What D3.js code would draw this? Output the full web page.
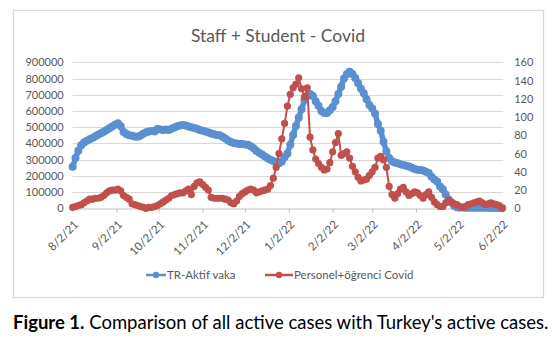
<!DOCTYPE html>
<html>
<head>
<meta charset="utf-8">
<script src="https://cdn.jsdelivr.net/npm/d3@7"></script>
<style>
  html, body { margin: 0; padding: 0; background: #fff; }
  svg { display: block; }
  text { font-family: Lato, "Open Sans", sans-serif; }
</style>
</head>
<body>
<svg id="chart" width="558" height="339"></svg>
<script>
// Readings every second day, starting 8/2/21
const startDate = "8/2/21";
const stepDays = 2;

// TR-Aktif vaka (left axis)
const trActive = [
  256000, 310000, 355000, 388000, 405000, 416000, 426000, 434000, 444000, 453000,
  462000, 472000, 482000, 493000, 504000, 515000, 524000, 506000, 470000, 458000,
  451000, 447000, 442000, 441000, 448000, 460000, 469000, 473000, 477000, 474000,
  489000, 486000, 483000, 485000, 483000, 490000, 498000, 506000, 511000, 514000,
  510000, 505000, 500000, 495000, 490000, 483000, 478000, 473000, 467000, 461000,
  456000, 452000, 450000, 441000, 430000, 418000, 408000, 402000, 399000, 397000,
  396000, 394000, 391000, 382000, 370000, 355000, 343000, 332000, 320000, 309000,
  299000, 291000, 284000, 278000, 288000, 315000, 338000, 392000, 452000, 508000,
  560000, 610000, 668000, 692000, 705000, 693000, 660000, 632000, 600000, 588000,
  587000, 605000, 625000, 660000, 705000, 750000, 800000, 826000, 841000, 828000,
  803000, 772000, 737000, 709000, 672000, 637000, 615000, 585000, 520000, 478000,
  410000, 352000, 310000, 290000, 283000, 278000, 272000, 267000, 262000, 257000,
  250000, 243000, 237000, 236000, 233000, 225000, 217000, 195000, 178000, 165000,
  135000, 118000, 85000, 55000, 35000, 15000, 6000, 5000, 5000, 4000,
  4000, 4000, 3000, 3000, 3000, 3000, 3000, 3000, 2000, 2000,
  2000, 2000, 2000
];

// Personel+öğrenci Covid (right axis)
const staffStudent = [
  1, 2, 3, 4, 6, 8, 10, 10, 11, 11,
  12, 14, 17, 19, 20, 20, 21, 19, 14, 12,
  10, 5, 4, 3, 2, 1, 0, 1, 1, 2,
  3, 5, 7, 9, 11, 14, 15, 16, 17, 17,
  19, 21, 15, 24, 28, 29, 26, 23, 20, 12,
  11, 11, 11, 11, 10, 9, 6, 5, 8, 13,
  16, 18, 20, 21, 20, 17, 18, 19, 20, 21,
  25, 33, 45, 60, 76, 93, 112, 125, 132, 136,
  143, 131, 122, 132, 78, 64, 54, 49, 45, 42,
  43, 50, 62, 72, 82, 58, 60, 62, 55, 46,
  40, 34, 30, 31, 32, 36, 40, 45, 55, 57,
  53, 45, 24, 15, 11, 16, 21, 23, 18, 14,
  16, 18, 17, 14, 11, 15, 18, 12, 7, 4,
  2, 2, 6, 9, 7, 5, 4, 2, 1, 2,
  4, 5, 6, 7, 8, 6, 4, 5, 6, 5,
  4, 3, 0
];

const monthTicks = ["8/2/21", "9/2/21", "10/2/21", "11/2/21", "12/2/21", "1/2/22",
                    "2/2/22", "3/2/22", "4/2/22", "5/2/22", "6/2/22"];
const leftTicks = [0, 100000, 200000, 300000, 400000, 500000, 600000, 700000, 800000, 900000];
const rightTicks = [0, 20, 40, 60, 80, 100, 120, 140, 160];

const seriesNames = ["TR-Aktif vaka", "Personel+öğrenci Covid"];
const chartTitle = "Staff + Student - Covid";

const BLUE = "#5b8fd0";
const RED = "#c0504d";
const LABEL = "#595959";
const GRID = "#d9d9d9";

const parse = d3.timeParse("%m/%d/%y");
const fmt = d3.timeFormat("%-m/%-d/%y");
const t0 = parse(startDate);
const blueData = trActive.map((v, i) => ({ date: d3.timeDay.offset(t0, i * stepDays), value: v }));
const redData = staffStudent.map((v, i) => ({ date: d3.timeDay.offset(t0, i * stepDays), value: v }));
const tickDates = monthTicks.map(parse);

const svg = d3.select("#chart");

// chart frame
svg.append("rect").attr("width", 558).attr("height", 339).attr("fill", "#fff");
svg.append("rect")
  .attr("x", 13.5).attr("y", 10.5).attr("width", 530).attr("height", 287)
  .attr("fill", "#fff").attr("stroke", GRID).attr("stroke-width", 1.3);

svg.append("text")
  .attr("x", 278).attr("y", 42)
  .attr("text-anchor", "middle")
  .attr("fill", LABEL)
  .attr("font-size", 17.5)
  .text(chartTitle);

const plotLeft = 72.7, plotRight = 502.2, plotTop = 62.3, plotBottom = 208.3;

const x = d3.scaleTime().domain([tickDates[0], tickDates[tickDates.length - 1]]).range([plotLeft, plotRight]);
const yL = d3.scaleLinear().domain([0, 900000]).range([plotBottom, plotTop]);
const yR = d3.scaleLinear().domain([0, 160]).range([plotBottom, plotTop]);

// horizontal gridlines
svg.append("g")
  .selectAll("line")
  .data(leftTicks.slice(1))
  .join("line")
  .attr("x1", plotLeft).attr("x2", plotRight + 1)
  .attr("y1", d => Math.round(yL(d)) + 0.5).attr("y2", d => Math.round(yL(d)) + 0.5)
  .attr("stroke", GRID).attr("stroke-width", 1);

// left axis labels
const gL = svg.append("g")
  .attr("transform", `translate(${plotLeft - 9},0)`)
  .call(d3.axisLeft(yL).tickValues(leftTicks).tickFormat(d3.format("d")).tickSize(0).tickPadding(0));
gL.select(".domain").remove();
gL.selectAll("text").attr("fill", LABEL).attr("font-size", 11).attr("font-family", "Lato, sans-serif");

// right axis labels
const gR = svg.append("g")
  .attr("transform", `translate(${plotRight + 12},0)`)
  .call(d3.axisRight(yR).tickValues(rightTicks).tickSize(0).tickPadding(0));
gR.select(".domain").remove();
gR.selectAll("text").attr("fill", LABEL).attr("font-size", 11).attr("font-family", "Lato, sans-serif");

// date axis
const gX = svg.append("g")
  .attr("transform", `translate(0,${Math.round(plotBottom) + 0.5})`)
  .call(d3.axisBottom(x).tickValues(tickDates).tickFormat(fmt).tickSize(4).tickSizeOuter(0));
gX.select(".domain").attr("stroke", "#bfbfbf");
gX.selectAll(".tick line").attr("stroke", "#bfbfbf");
gX.selectAll("text")
  .attr("fill", LABEL)
  .attr("font-size", 11.5)
  .attr("font-family", "Lato, sans-serif")
  .attr("text-anchor", "end")
  .attr("x", 0).attr("y", 0).attr("dy", "0.35em")
  .attr("transform", "translate(3,14) rotate(-45)");

// series
function drawSeries(data, yScale, color, r, lw) {
  const g = svg.append("g");
  g.append("path")
    .datum(data)
    .attr("fill", "none")
    .attr("stroke", color)
    .attr("stroke-width", lw)
    .attr("stroke-linejoin", "round")
    .attr("d", d3.line().x(d => x(d.date)).y(d => yScale(d.value)));
  g.selectAll("circle")
    .data(data)
    .join("circle")
    .attr("cx", d => x(d.date))
    .attr("cy", d => yScale(d.value))
    .attr("r", r)
    .attr("fill", color);
}
drawSeries(blueData, yL, BLUE, 4, 5.5);
drawSeries(redData, yR, RED, 3.6, 2);

// legend
const legendY = 275;
const legend = [
  { name: seriesNames[0], color: BLUE, x1: 146, x2: 166 },
  { name: seriesNames[1], color: RED, x1: 265, x2: 293 }
];
legend.forEach(l => {
  svg.append("line").attr("x1", l.x1).attr("x2", l.x2).attr("y1", legendY).attr("y2", legendY)
    .attr("stroke", l.color).attr("stroke-width", 2.5);
  svg.append("circle").attr("cx", (l.x1 + l.x2) / 2).attr("cy", legendY).attr("r", 3.2).attr("fill", l.color);
  svg.append("text").attr("x", l.x2 + 1).attr("y", legendY).attr("dy", "0.35em")
    .attr("fill", LABEL).attr("font-size", 11.5).text(l.name);
});

// caption
const cap = svg.append("text").attr("x", 13).attr("y", 329).attr("font-size", 18.5).attr("fill", "#000");
cap.append("tspan").attr("font-weight", "bold").text("Figure 1.");
cap.append("tspan").text(" Comparison of all active cases with Turkey's active cases.");
</script>
</body>
</html>
